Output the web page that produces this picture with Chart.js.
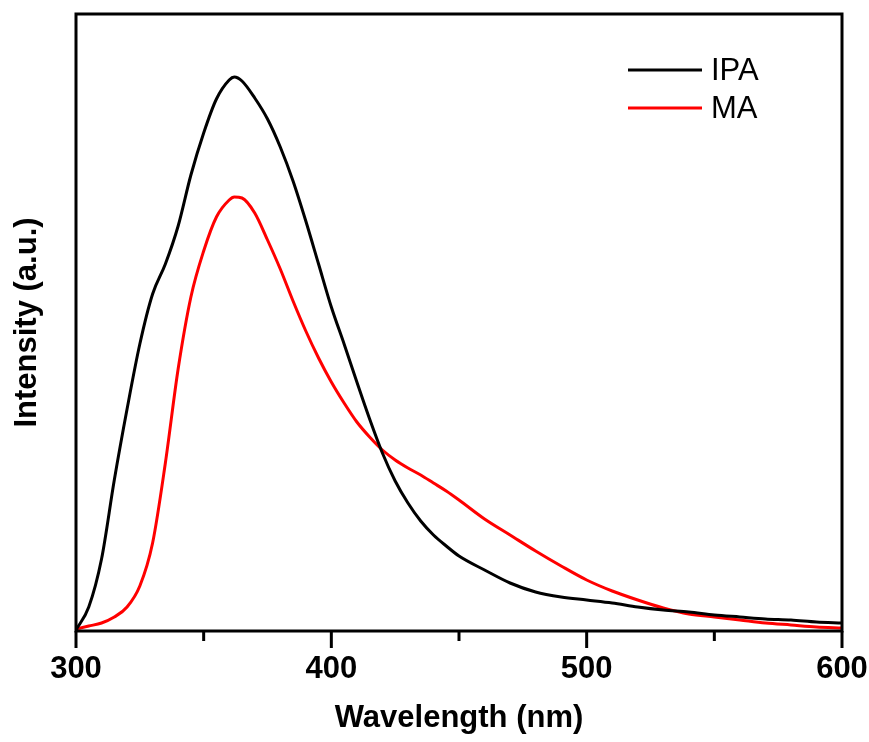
<!DOCTYPE html>
<html>
<head>
<meta charset="utf-8">
<script src="https://cdn.jsdelivr.net/npm/chart.js@4.4.1/dist/chart.umd.min.js"></script>
<style>
  html, body { margin: 0; padding: 0; background: #fff; }
  #wrap { width: 869px; height: 742px; }
</style>
</head>
<body>
<div id="wrap"><canvas id="chartKu" width="869" height="742"></canvas></div>
<script>
// wavelength (nm) and PL intensity (a.u.)
const wavelengths = [300,305,310,315,320,325,330,335,340,345,350,355,360,362,365,370,375,380,385,390,395,
  400,405,410,415,420,425,430,435,440,445,450,460,470,480,490,500,510,520,530,540,550,560,570,580,590,600];
const ipa = [1,24,72,151,222,287,337,367,405,456,498,532,551,554,550,533,512,484,450,410,367,
  324,287,249,212,178,150,128,110,96,85,75,61,48,39,34,31,28,24,21,19,16,14,12,11,9,8];
const ma = [2,5,8,14,24,45,88,168,262,334,380,414,431,434,433,418,391,362,330,300,273,
  249,228,209,194,181,171,163,156,148,140,131,112,96,80,65,51,40,31,23,17,14,11,8,6,4,3];
const seriesNames = ['IPA', 'MA'];
const seriesColors = ['#000000', '#ff0000'];
const xTicks = [300, 350, 400, 450, 500, 550, 600];
const xLabeled = [300, 400, 500, 600];

const toPts = vals => wavelengths.map((w, i) => ({x: w, y: vals[i]}));

// frame + outward ticks on the x axis
const frame = {
  id: 'frame',
  afterDraw(chart) {
    const {ctx, chartArea: a} = chart;
    const xs = chart.scales.x;
    ctx.save();
    ctx.strokeStyle = '#000';
    ctx.lineWidth = 3;
    ctx.strokeRect(a.left, a.top, a.right - a.left, a.bottom - a.top);
    xTicks.forEach(v => {
      const px = xs.getPixelForValue(v);
      const len = xLabeled.includes(v) ? 17 : 10;
      ctx.beginPath();
      ctx.moveTo(px, a.bottom);
      ctx.lineTo(px, a.bottom + len);
      ctx.stroke();
    });
    ctx.restore();
  }
};

// legend inside the plot, top right
const innerLegend = {
  id: 'innerLegend',
  afterDraw(chart) {
    const {ctx} = chart;
    ctx.save();
    ctx.font = '31px "Liberation Sans", Arial, sans-serif';
    ctx.textBaseline = 'middle';
    chart.data.datasets.forEach((ds, i) => {
      const y = 70 + i * 38;
      ctx.strokeStyle = ds.borderColor;
      ctx.lineWidth = 3;
      ctx.beginPath();
      ctx.moveTo(628, y);
      ctx.lineTo(702, y);
      ctx.stroke();
      ctx.fillStyle = '#000';
      ctx.fillText(ds.label, 711, y + 1);
    });
    ctx.restore();
  }
};

let ctx = document.getElementById('chartKu').getContext('2d');
let chart = new Chart(ctx, {
  type: 'line',
  data: {
    datasets: [
      { label: seriesNames[0], data: toPts(ipa), borderColor: seriesColors[0], borderWidth: 3,
        pointRadius: 0, cubicInterpolationMode: 'monotone', fill: false },
      { label: seriesNames[1], data: toPts(ma), borderColor: seriesColors[1], borderWidth: 3,
        pointRadius: 0, cubicInterpolationMode: 'monotone', fill: false }
    ]
  },
  options: {
    responsive: false,
    animation: false,
    layout: { padding: { left: 5, right: 27, top: 14, bottom: 1 } },
    plugins: { legend: { display: false }, tooltip: { enabled: false } },
    scales: {
      x: {
        type: 'linear', min: 300, max: 600,
        afterFit: s => { s.height = 110; s.paddingLeft = 0; s.paddingRight = 0; },
        afterBuildTicks: s => { s.ticks = xLabeled.map(v => ({value: v})); },
        grid: { display: false },
        border: { display: false },
        ticks: { color: '#000', padding: 12, maxRotation: 0,
          font: { family: '"Liberation Sans", Arial, sans-serif', size: 31, weight: 'bold' } },
        title: { display: true, text: 'Wavelength (nm)', color: '#000',
          font: { family: '"Liberation Sans", Arial, sans-serif', size: 31, weight: 'bold' } }
      },
      y: {
        min: 0, max: 617,
        afterFit: s => { s.width = 71; },
        grid: { display: false },
        border: { display: false },
        ticks: { display: false },
        title: { display: true, text: 'Intensity (a.u.)', color: '#000',
          font: { family: '"Liberation Sans", Arial, sans-serif', size: 31, weight: 'bold' } }
      }
    }
  },
  plugins: [frame, innerLegend]
});
</script>
</body>
</html>
